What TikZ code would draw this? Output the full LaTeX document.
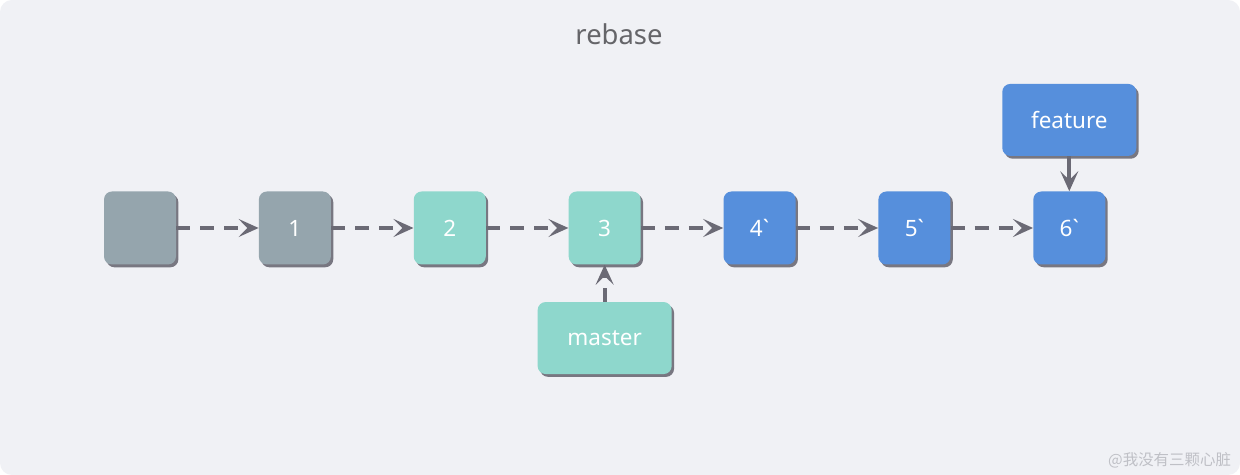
\documentclass[tikz,border=0pt]{standalone}
\usepackage{fontspec}
\setmainfont{Noto Sans}
\newfontfamily\cjkfont{Noto Sans CJK SC}
\usepackage{tikz}
\usetikzlibrary{positioning,shadows,chains,arrows.meta}
\definecolor{panelgray}{HTML}{F0F1F5}
\definecolor{oldgray}{HTML}{95A5AD}
\definecolor{mint}{HTML}{8ED7CC}
\definecolor{rebaseblue}{HTML}{568FDC}
\definecolor{linkgray}{HTML}{6B6A75}
\definecolor{titlegray}{HTML}{656569}
\definecolor{markgray}{HTML}{BFC0C6}
\tikzset{%
	commit/.style={%
		rectangle,
		rounded corners=0.2cm,
		minimum width=1.8cm,
		minimum height=1.825cm,
		text=white,
		font=\fontsize{16}{18}\selectfont,
		drop shadow={shadow xshift=0.06cm, shadow yshift=-0.07cm, fill=linkgray, opacity=0.9}
	},
	branch/.style={commit, minimum width=3.35cm, minimum height=1.8cm},
	link/.style={linkgray, line width=0.1cm, dash pattern=on 0.35cm off 0.25cm, -{Stealth[length=0.5cm, width=0.45cm, inset=0.22cm]}},
	pointer/.style={linkgray, line width=0.1cm, -{Stealth[length=0.5cm, width=0.45cm, inset=0.22cm]}}
}

\begin{document}
\begin{tikzpicture}[start chain=going right, node distance=2.058cm]
	\fill[white] (0,0) rectangle (31,11.875);
	\fill[panelgray, rounded corners=0.3cm] (0,0) rectangle (31,11.875);
	\useasboundingbox (0,0) rectangle (31,11.875);
	\node[titlegray, font=\fontsize{19.5}{22}\selectfont] (title) at (15.475,11.025) {rebase};
	% commits
	\node[on chain, commit, fill=oldgray] (c0) at (3.5,6.175) {};
	\node[on chain, commit, fill=oldgray] (c1) {1};
	\node[on chain, commit, fill=mint] (c2) {2};
	\node[on chain, commit, fill=mint] (c3) {3};
	\node[on chain, commit, fill=rebaseblue] (c4) {4\textasciigrave};
	\node[on chain, commit, fill=rebaseblue] (c5) {5\textasciigrave};
	\node[on chain, commit, fill=rebaseblue] (c6) {6\textasciigrave};
	% branches
	\node[branch, fill=mint, below=0.925cm of c3] (master) {master};
	\node[branch, fill=rebaseblue, above=0.875cm of c6] (feature) {feature};
	\foreach \from/\to in {c0/c1,c1/c2,c2/c3,c3/c4,c4/c5,c5/c6}
		\draw[link] (\from) -- (\to);
	\draw[link] (master) -- (c3);
	\draw[pointer] (feature) -- (c6);
	\node[markgray, anchor=east, font=\cjkfont\fontsize{11}{13}\selectfont] (mark) at (30.9,0.375) {@我没有三颗心脏};
\end{tikzpicture}
\end{document}
